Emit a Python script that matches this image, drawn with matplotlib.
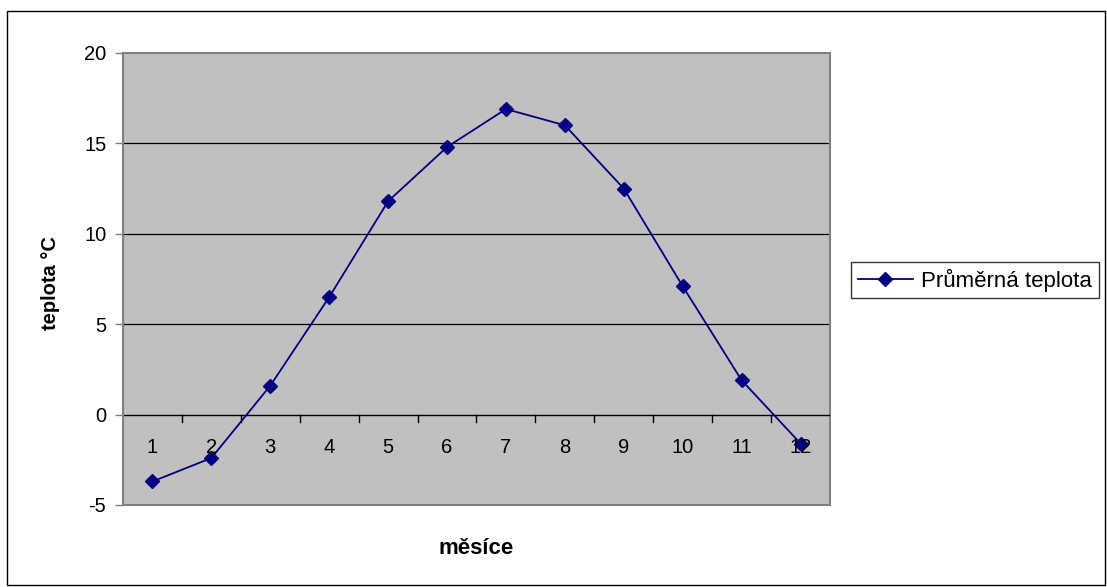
import matplotlib
matplotlib.use("Agg")
import matplotlib.pyplot as plt
from matplotlib.patches import Rectangle

months = ["1", "2", "3", "4", "5", "6", "7", "8", "9", "10", "11", "12"]
temps = [-3.7, -2.4, 1.6, 6.5, 11.8, 14.8, 16.9, 16.0, 12.5, 7.1, 1.9, -1.6]
series_name = "Průměrná teplota"
y_ticks = [-5, 0, 5, 10, 15, 20]

plt.rcParams['font.family'] = ['Liberation Sans', 'DejaVu Sans']
plt.rcParams['axes.unicode_minus'] = False

W, H = 1107, 587
fig = plt.figure(figsize=(W / 100, H / 100), dpi=100)
fig.patch.set_facecolor('white')

# outer border
fig.add_artist(Rectangle((7 / W, 2 / H), (W - 9) / W, (H - 13) / H,
                         transform=fig.transFigure, fill=False,
                         edgecolor='black', linewidth=1.0))

left, right, top, bottom = 123, 830, 53, 505
ax = fig.add_axes([left / W, 1 - bottom / H, (right - left) / W, (bottom - top) / H])
ax.set_facecolor('#c0c0c0')

x = list(range(1, len(months) + 1))
ax.set_xlim(0.5, len(months) + 0.5)
ax.set_ylim(-5, 20)

for yv in y_ticks[2:-1]:
    ax.axhline(yv, color='black', linewidth=0.9, zorder=1)

line, = ax.plot(x, temps, color='#000080', linewidth=1.3, marker='D',
                markersize=7.5, markerfacecolor='#000080', markeredgecolor='#000080',
                zorder=3, label=series_name)

for s in ['top', 'right', 'bottom']:
    ax.spines[s].set_visible(False)
ax.spines['left'].set_color('#808080')
ax.add_patch(Rectangle((0, 0), 1, 1, transform=ax.transAxes, fill=False,
                       edgecolor='#808080', linewidth=1.5, zorder=2, clip_on=False))

# category axis at y=0
ax.axhline(0, color='black', linewidth=1.0, zorder=2)
for b in range(1, len(months)):
    ax.plot([b + 0.5, b + 0.5], [0, -0.4], color='black', linewidth=1.0, zorder=2)
for xi, lab in zip(x, months):
    ax.text(xi, -1.8, lab, ha='center', va='center', fontsize=14.5, zorder=4)

ax.set_xticks([])
ax.set_yticks(y_ticks)
ax.tick_params(axis='y', length=6, width=1, color='#808080', labelsize=14.5, pad=6)

fig.text(50 / W, 1 - 283 / H, 'teplota °C', fontsize=14.5, fontweight='bold',
         rotation=90, ha='center', va='center')
fig.text(476 / W, 1 - 548 / H, 'měsíce', fontsize=16, fontweight='bold',
         ha='center', va='center')

leg = fig.legend(handles=[line], loc='center left',
                 bbox_to_anchor=(851 / W, 1 - 280 / H), frameon=True,
                 fancybox=False, fontsize=16, handlelength=2.5,
                 borderpad=0.3, handletextpad=0.35, borderaxespad=0)
leg.get_frame().set_edgecolor('black')
leg.get_frame().set_linewidth(1.0)

fig.savefig('out.png', dpi=100)
